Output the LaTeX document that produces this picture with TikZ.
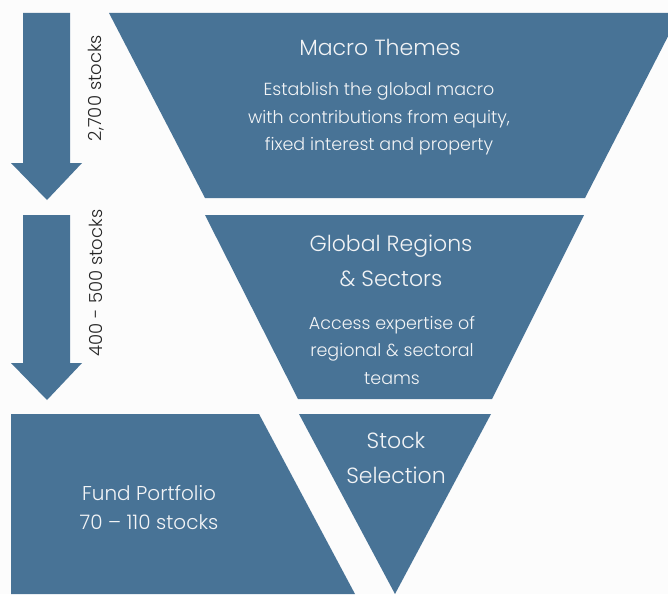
\documentclass[tikz,border=0pt]{standalone}
\usepackage{fontspec}
\setmainfont{Poppins Light}
\definecolor{funnel}{HTML}{487396}
\definecolor{bgc}{HTML}{FCFCFC}
\definecolor{txtc}{HTML}{F2F4F6}
\begin{document}
\begin{tikzpicture}[x=1pt,y=-1pt,
  stage/.style={fill=funnel,draw=none},
  title/.style={text=txtc,align=center,font=\fontsize{22}{35}\selectfont},
  body/.style={text=txtc,align=center,font=\fontsize{17.5}{27.5}\selectfont},
  side/.style={text=black!85,rotate=90,font=\fontsize{18}{22}\selectfont}]
\fill[bgc] (0,0) rectangle (668,594);
\useasboundingbox (0,0) rectangle (668,594);
% arrows
\fill[stage] (23,13) -- (70,13) -- (70,163) -- (82,163) -- (47,200) -- (11,163) -- (23,163) -- cycle;
\fill[stage] (23,215) -- (70,215) -- (70,363) -- (82,363) -- (47,400) -- (11,363) -- (23,363) -- cycle;
% funnel stages
\fill[stage] (109,13) -- (680,13) -- (585,198) -- (205,198) -- cycle;
\fill[stage] (205,215) -- (584,215) -- (492,399) -- (298,399) -- cycle;
\fill[stage] (299,414) -- (491,414) -- (395,594) -- cycle;
\fill[stage] (11,414) -- (259,414) -- (355,594) -- (11,594) -- cycle;
% texts
\node[title] (macro) at (380,47) {Macro Themes};
\node[body] (macrob) at (379,119) {Establish the global macro\\with contributions from equity,\\fixed interest and property};
\node[title] (global) at (391,261) {Global Regions\\\& Sectors};
\node[body] (globalb) at (392,350) {Access expertise of\\regional \& sectoral\\teams};
\node[title] (stock) at (396,458) {Stock\\Selection};
\node[title,font=\fontsize{20}{29}\selectfont] (fund) at (149,508) {Fund Portfolio\\70 – 110 stocks};
\node[side] (s1) at (96,88) {2,700 stocks};
\node[side] (s2) at (96,283) {400 - 500 stocks};
\end{tikzpicture}
\end{document}
